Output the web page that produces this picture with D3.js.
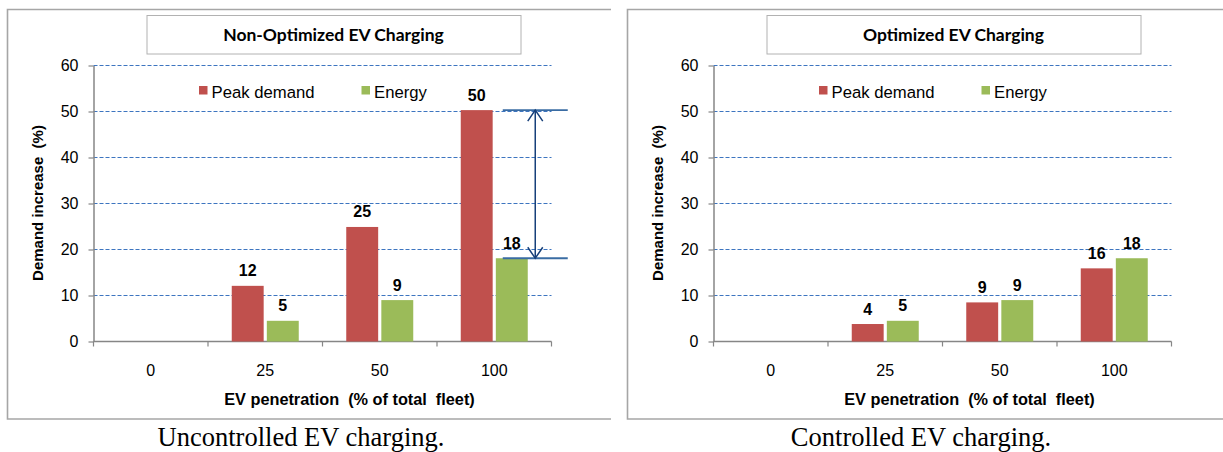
<!DOCTYPE html>
<html>
<head>
<meta charset="utf-8">
<script src="https://cdn.jsdelivr.net/npm/d3@7"></script>
<style>
body { margin: 0; background: #fff; }
text { font-family: "Liberation Sans", Arial, sans-serif; }
</style>
</head>
<body>
<div id="chart"></div>
<script>
// chart data
var categories = ["0", "25", "50", "100"];
var seriesNames = ["Peak demand", "Energy"];
var seriesColors = ["#c0504d", "#9bbb59"];
var uncontrolledPeak = [0, 12.1, 24.9, 50.3];
var uncontrolledEnergy = [0, 4.5, 9.0, 18.1];
var controlledPeak = [0, 3.8, 8.5, 15.9];
var controlledEnergy = [0, 4.5, 9.0, 18.1];
var yTicks = [0, 10, 20, 30, 40, 50, 60];
var panelTitles = ["Non-Optimized EV Charging", "Optimized EV Charging"];
var captions = ["Uncontrolled EV charging.", "Controlled EV charging."];
var xTitle = "EV penetration  (% of total  fleet)";
var yTitle = "Demand increase  (%)";

var svg = d3.select("#chart").append("svg")
    .attr("width", 1223).attr("height", 452);

drawPanel(0, panelTitles[0], captions[0], uncontrolledPeak, uncontrolledEnergy, true);
drawPanel(620, panelTitles[1], captions[1], controlledPeak, controlledEnergy, false);

function drawPanel(dx, title, caption, peak, energy, showArrow) {
    var g = svg.append("g").attr("transform", "translate(" + dx + ",0)");

    // frame (right side is cut off in the original)
    g.append("path")
        .attr("d", "M611,9.5H7.5V419H611")
        .attr("fill", "none").attr("stroke", "#a6a6a6").attr("stroke-width", 1.6);

    var x0 = 93.5, x1 = 551.5, yBottom = 341.5, yTop = 65.5;

    var x = d3.scaleBand().domain(categories).range([x0, x1]).padding(0);
    var xs = d3.scaleBand().domain(seriesNames).range([-33.5, 33.5]).paddingInner(0.09);
    var y = d3.scaleLinear().domain([0, 60]).range([yBottom, yTop]);

    // title box
    g.append("rect")
        .attr("x", x0 + 53.5).attr("y", 15.5)
        .attr("width", 374).attr("height", 38.5)
        .attr("fill", "#fff").attr("stroke", "#b2b2b2").attr("stroke-width", 1);
    g.append("text")
        .text(title)
        .attr("x", x0 + 240).attr("y", 41)
        .attr("text-anchor", "middle")
        .style("font-family", "Lato, 'Open Sans', sans-serif")
        .attr("font-weight", "bold").attr("font-size", "17.5px")
        .attr("fill", "#000");

    // gridlines
    g.selectAll("line.grid")
        .data(yTicks.filter(function(d) { return d > 0; }))
        .enter().append("line")
        .attr("class", "grid")
        .attr("x1", x0).attr("x2", x1)
        .attr("y1", function(d) { return y(d); }).attr("y2", function(d) { return y(d); })
        .attr("stroke", "#3d75c0").attr("stroke-width", 1.1)
        .attr("stroke-dasharray", "4,2");

    // y axis
    var yAxis = g.append("g")
        .attr("transform", "translate(" + x0 + ",0)")
        .call(d3.axisLeft(y).tickValues(yTicks).tickSize(5).tickPadding(10).tickSizeOuter(0));
    yAxis.select(".domain").attr("stroke", "#868686").attr("stroke-width", 1.5);
    yAxis.selectAll(".tick line").attr("stroke", "#868686").attr("stroke-width", 1.2);
    yAxis.selectAll(".tick text")
        .attr("font-size", "16px").attr("fill", "#000")
        .style("font-family", "'Liberation Sans', Arial, sans-serif");

    // x axis: ticks on band edges, labels on band centres
    var xEdges = categories.map(function(c) { return x(c); }).concat([x1]);
    g.append("line")
        .attr("x1", x0).attr("x2", x1).attr("y1", yBottom).attr("y2", yBottom)
        .attr("stroke", "#868686").attr("stroke-width", 1.5);
    g.selectAll("line.xtick")
        .data(xEdges)
        .enter().append("line")
        .attr("class", "xtick")
        .attr("x1", function(d) { return d; }).attr("x2", function(d) { return d; })
        .attr("y1", yBottom).attr("y2", yBottom + 5)
        .attr("stroke", "#868686").attr("stroke-width", 1.2);
    g.selectAll("text.xlab")
        .data(categories)
        .enter().append("text")
        .attr("class", "xlab")
        .text(function(d) { return d; })
        .attr("x", function(d) { return x(d) + x.bandwidth() / 2; })
        .attr("y", 375.5)
        .attr("text-anchor", "middle")
        .attr("font-size", "16px").attr("fill", "#000");

    // axis titles
    g.append("text")
        .text(xTitle)
        .attr("x", x0 + 256).attr("y", 405)
        .attr("text-anchor", "middle")
        .attr("font-weight", "bold").attr("font-size", "16.3px")
        .style("white-space", "pre");
    g.append("text")
        .text(yTitle)
        .attr("transform", "translate(42.5,203) rotate(-90)")
        .attr("text-anchor", "middle")
        .attr("font-weight", "bold").attr("font-size", "15px")
        .style("white-space", "pre");

    // bars
    var rows = categories.map(function(c, i) {
        return { cat: c, values: [peak[i], energy[i]] };
    });
    var groups = g.selectAll("g.cat")
        .data(rows)
        .enter().append("g")
        .attr("class", "cat")
        .attr("transform", function(d) { return "translate(" + (x(d.cat) + x.bandwidth() / 2) + ",0)"; });

    groups.selectAll("rect")
        .data(function(d) { return d.values.map(function(v, j) { return { name: seriesNames[j], value: v, color: seriesColors[j] }; }); })
        .enter().append("rect")
        .attr("x", function(d) { return xs(d.name); })
        .attr("width", xs.bandwidth())
        .attr("y", function(d) { return y(d.value); })
        .attr("height", function(d) { return yBottom - y(d.value); })
        .attr("fill", function(d) { return d.color; });

    groups.selectAll("text")
        .data(function(d) { return d.values.map(function(v, j) { return { name: seriesNames[j], value: v }; }).filter(function(d) { return d.value > 0; }); })
        .enter().append("text")
        .text(function(d) { return Math.round(d.value); })
        .attr("x", function(d) { return xs(d.name) + xs.bandwidth() / 2; })
        .attr("y", function(d) { return y(d.value) - 9.5; })
        .attr("text-anchor", "middle")
        .attr("font-weight", "bold").attr("font-size", "16px").attr("fill", "#000");

    // legend
    var legendX = [x0 + 105.5, x0 + 268];
    seriesNames.forEach(function(name, j) {
        g.append("rect")
            .attr("x", legendX[j]).attr("y", 86)
            .attr("width", 8.5).attr("height", 8.5)
            .attr("fill", seriesColors[j]);
        g.append("text")
            .text(name)
            .attr("x", legendX[j] + 12.5).attr("y", 98)
            .attr("font-size", "16.7px").attr("fill", "#000");
    });

    // arrow between peak and energy of the last category
    if (showArrow) {
        var last = categories[categories.length - 1];
        var cx = x(last) + x.bandwidth() / 2;
        var yHi = y(peak[peak.length - 1]);
        var yLo = y(energy[energy.length - 1]);
        var ax = cx + 41;
        [yHi, yLo].forEach(function(yy) {
            g.append("line")
                .attr("x1", cx + 8.5).attr("x2", cx + 73.5)
                .attr("y1", yy).attr("y2", yy)
                .attr("stroke", "#3a6ca3").attr("stroke-width", 1.8);
        });
        g.append("line")
            .attr("x1", ax).attr("x2", ax).attr("y1", yHi).attr("y2", yLo)
            .attr("stroke", "#17407a").attr("stroke-width", 1.5);
        g.append("path")
            .attr("d", "M" + (ax - 7.5) + "," + (yHi + 11) + "L" + ax + "," + yHi + "L" + (ax + 7.5) + "," + (yHi + 11))
            .attr("fill", "none").attr("stroke", "#17407a").attr("stroke-width", 1.5);
        g.append("path")
            .attr("d", "M" + (ax - 7.5) + "," + (yLo - 11) + "L" + ax + "," + yLo + "L" + (ax + 7.5) + "," + (yLo - 11))
            .attr("fill", "none").attr("stroke", "#17407a").attr("stroke-width", 1.5);
    }

    // caption under the panel
    g.append("text")
        .text(caption)
        .attr("x", 301).attr("y", 446)
        .attr("text-anchor", "middle")
        .style("font-family", "'Liberation Serif', 'Times New Roman', serif")
        .attr("font-size", "26.5px").attr("fill", "#000");
}
</script>
</body>
</html>
